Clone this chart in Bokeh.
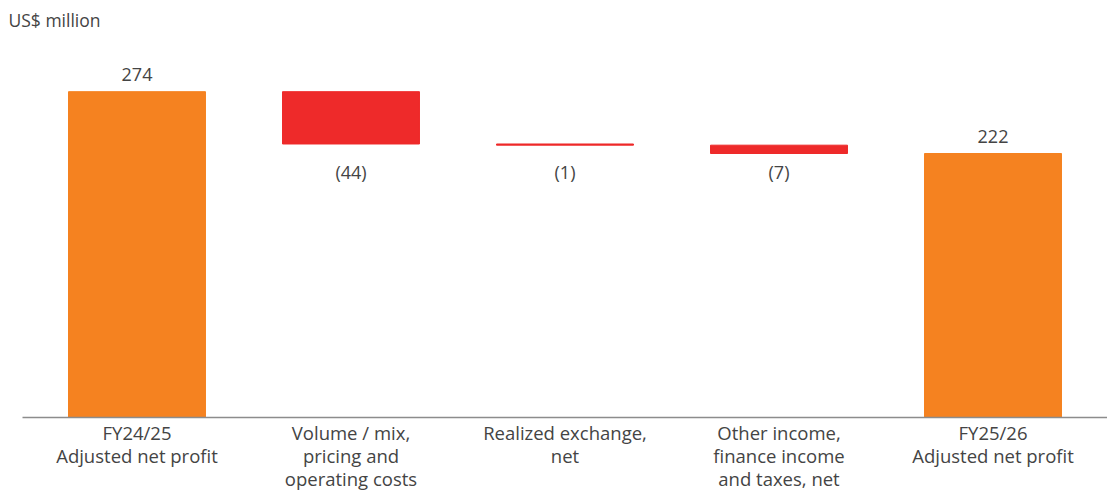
from bokeh.plotting import figure
from bokeh.models import ColumnDataSource, Title, FixedTicker
from bokeh.embed import file_html
from bokeh.resources import INLINE

categories = ["FY24/25\nAdjusted net profit",
              "Volume / mix,\npricing and\noperating costs",
              "Realized exchange,\nnet",
              "Other income,\nfinance income\nand taxes, net",
              "FY25/26\nAdjusted net profit"]
values = [274, -44, -1, -7, 222]
kinds = ["total", "delta", "delta", "delta", "total"]
unit_label = "US$ million"

ORANGE = "#F58220"
RED = "#EE2A2A"
TEXT = "#444444"
FONT = "Open Sans"

xs, tops, bottoms, colors = [], [], [], []
running = 0
for i, (v, k) in enumerate(zip(values, kinds)):
    xs.append(i)
    if k == "total":
        bottoms.append(0); tops.append(v); colors.append(ORANGE)
        running = v
    else:
        start = running
        running = running + v
        tops.append(max(start, running)); bottoms.append(min(start, running)); colors.append(RED)

final_total = values[-1]
src = ColumnDataSource(dict(x=xs, top=tops, bottom=bottoms, color=colors))

p = figure(width=1107, height=494, output_backend="svg", toolbar_location=None,
           x_range=(-0.535, 4.535), y_range=(0, 320.4),
           min_border_left=22, min_border_right=0, min_border_top=0, min_border_bottom=77)
p.vbar(x="x", top="top", bottom="bottom", width=0.64, color="color", source=src)

pos_src = ColumnDataSource(dict(x=[x for x, k in zip(xs, kinds) if k == "total"],
                                y=[t for t, k in zip(tops, kinds) if k == "total"],
                                t=[str(v) for v, k in zip(values, kinds) if k == "total"]))
p.text(x="x", y="y", text="t", source=pos_src, text_align="center", text_baseline="middle",
       y_offset=-17, text_font_size="18px", text_color=TEXT, text_font={"value": FONT})

neg_src = ColumnDataSource(dict(x=[x for x, k in zip(xs, kinds) if k == "delta"],
                                y=[final_total for k in kinds if k == "delta"],
                                t=["(%d)" % abs(v) for v, k in zip(values, kinds) if k == "delta"]))
p.text(x="x", y="y", text="t", source=neg_src, text_align="center", text_baseline="middle",
       y_offset=18, text_font_size="18px", text_color=TEXT, text_font={"value": FONT})

p.xaxis.ticker = FixedTicker(ticks=list(range(len(categories))))
p.xaxis.major_label_overrides = {i: c for i, c in enumerate(categories)}
p.xaxis.major_tick_line_color = None
p.xaxis.minor_tick_line_color = None
p.xaxis.axis_line_color = "#8c8c8c"
p.xaxis.axis_line_width = 1.5
p.xaxis.major_label_standoff = -4
p.xaxis.major_label_text_font_size = "18.5px"
p.xaxis.major_label_text_color = TEXT
p.xaxis.major_label_text_font = FONT
p.xaxis.major_label_text_line_height = 0.935
p.yaxis.visible = False
p.xgrid.visible = False
p.ygrid.visible = False
p.outline_line_color = None
p.background_fill_color = "white"
p.border_fill_color = "white"

p.add_layout(Title(text=unit_label, align="left", offset=-14, text_font_size="17.5px",
                   text_color=TEXT, text_font=FONT, text_font_style="normal",
                   standoff=10), "above")

open("out.html", "w").write(file_html(p, INLINE))
